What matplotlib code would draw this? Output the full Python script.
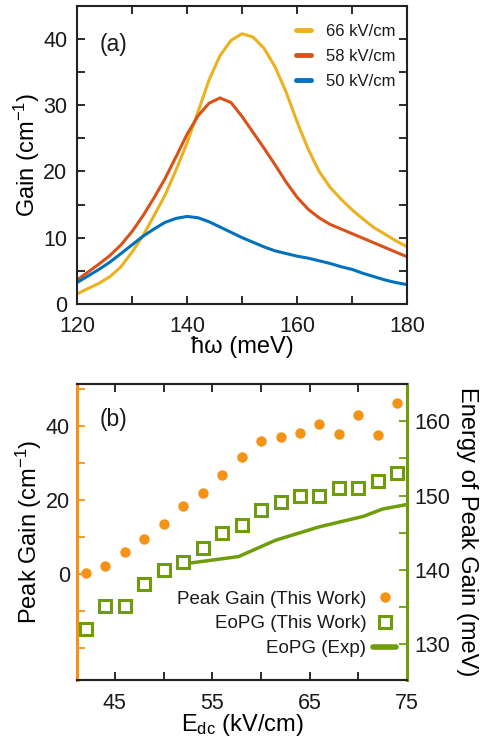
import matplotlib
matplotlib.use("Agg")
import matplotlib.pyplot as plt
from matplotlib.ticker import MultipleLocator
from matplotlib.lines import Line2D

plt.rcParams["font.family"] = ["Liberation Sans", "DejaVu Sans"]
plt.rcParams["mathtext.fontset"] = "custom"
plt.rcParams["mathtext.rm"] = "Liberation Sans"
plt.rcParams["mathtext.it"] = "Liberation Sans:italic"
plt.rcParams["text.color"] = "#1a1a1a"

# ── Data: panel (a) gain spectra ──────────────────────────────────────────────
energy = [120, 122, 124, 126, 128, 130, 132, 134, 136, 138, 140, 142, 144, 146,
          148, 150, 152, 154, 156, 158, 160, 162, 164, 166, 168, 170, 172, 174,
          176, 178, 180]
gain_66 = [1.5, 2.3, 3.1, 4.1, 5.6, 7.8, 10.3, 13.3, 16.4, 20.2, 24.3, 29.0,
           33.8, 37.5, 39.8, 40.8, 40.3, 38.6, 35.8, 32.0, 27.5, 23.4, 20.0,
           17.6, 15.8, 14.2, 12.8, 11.5, 10.5, 9.5, 8.6]
gain_58 = [3.6, 4.8, 6.0, 7.3, 8.9, 10.9, 13.3, 16.0, 18.9, 22.2, 25.6, 28.4,
           30.3, 31.1, 30.4, 28.3, 25.9, 23.5, 21.0, 18.4, 16.1, 14.3, 13.0,
           12.0, 11.3, 10.6, 9.9, 9.2, 8.5, 7.8, 7.1]
gain_50 = [3.2, 4.2, 5.2, 6.3, 7.6, 8.9, 10.2, 11.3, 12.3, 12.9, 13.2, 13.0,
           12.4, 11.6, 10.8, 10.0, 9.3, 8.6, 8.0, 7.6, 7.2, 6.9, 6.5, 6.1, 5.6,
           5.2, 4.6, 4.1, 3.6, 3.2, 2.9]

# ── Data: panel (b) peak gain vs field ────────────────────────────────────────
field = [42, 44, 46, 48, 50, 52, 54, 56, 58, 60, 62, 64, 66, 68, 70, 72, 74]
peak_gain = [0.4, 2.3, 5.9, 9.5, 13.4, 18.4, 21.8, 26.8, 31.5, 35.8, 37.1,
             38.2, 40.4, 37.9, 42.8, 37.6, 46.3]
eopg_calc = [132.1, 135.1, 135.1, 138.1, 140.0, 141.0, 143.0, 145.0, 146.0,
             148.0, 149.1, 150.0, 150.0, 151.0, 151.0, 152.0, 153.0]
field_exp = [52, 57.7, 61.5, 66, 70.5, 72.5, 75]
eopg_exp = [140.8, 141.8, 144.0, 145.8, 147.2, 148.2, 148.8]

# ── Appearance ────────────────────────────────────────────────────────────────
C66, C58, C50 = "#EDB120", "#D95319", "#0072BD"
ORANGE = "#F39419"
GREEN = "#6F9D0A"
TXT = "#1a1a1a"
LABEL_FS = 17


def style_ticks(ax, **kw):
    ax.tick_params(which="both", direction="in", labelsize=15.5, colors=TXT,
                   length=6, width=1.3, **kw)


fig = plt.figure(figsize=(4.87, 7.41), dpi=100)

# ── Panel (a) ─────────────────────────────────────────────────────────────────
ax1 = fig.add_axes([0.158, 0.590, 0.678, 0.402])
ax1.plot(energy, gain_66, color=C66, lw=2.2)
ax1.plot(energy, gain_58, color=C58, lw=2.2)
ax1.plot(energy, gain_50, color=C50, lw=2.2)
ax1.set_xlim(120, 180)
ax1.set_ylim(0, 45)
ax1.xaxis.set_major_locator(MultipleLocator(20))
ax1.xaxis.set_minor_locator(MultipleLocator(10))
ax1.yaxis.set_major_locator(MultipleLocator(10))
ax1.yaxis.set_minor_locator(MultipleLocator(5))
style_ticks(ax1, top=True, right=True)
ax1.tick_params(axis="x", which="both", pad=9)
ax1.tick_params(axis="y", which="both", pad=7)
for s in ax1.spines.values():
    s.set_linewidth(1.5)
    s.set_color("#222222")
ax1.set_xlabel("ħω (meV)", fontsize=LABEL_FS, labelpad=-1)
ax1.set_ylabel("Gain (cm$^{-1}$)", fontsize=LABEL_FS, labelpad=1)
ax1.text(0.07, 0.91, "(a)", transform=ax1.transAxes, fontsize=16.5, va="top")
leg_a = [Line2D([], [], color=c, lw=3.5, solid_capstyle="round") for c in (C66, C58, C50)]
ax1.legend(leg_a, ["66 kV/cm", "58 kV/cm", "50 kV/cm"], loc="upper right",
           frameon=False, fontsize=12, handlelength=0.9, handletextpad=0.9,
           labelspacing=0.6, borderaxespad=0, bbox_to_anchor=(0.985, 0.963))

# ── Panel (b) ─────────────────────────────────────────────────────────────────
ax2 = fig.add_axes([0.158, 0.0823, 0.678, 0.3995])
ax3 = ax2.twinx()
ax2.plot(field, peak_gain, "o", color=ORANGE, ms=7.5, mec="none", zorder=3)
ax3.plot(field, eopg_calc, "s", mfc="white", mec=GREEN, mew=2.2, ms=8.5, zorder=3)
ax3.plot(field_exp, eopg_exp, "-", color=GREEN, lw=2.5, zorder=2)
ax2.set_xlim(41.1, 75)
ax2.set_ylim(-28.6, 51.3)
ax3.set_ylim(125.2, 165.0)
ax2.xaxis.set_minor_locator(MultipleLocator(5))
ax2.set_xticks([45, 55, 65, 75])
ax2.yaxis.set_minor_locator(MultipleLocator(10))
ax2.set_yticks([0, 20, 40])
ax3.yaxis.set_minor_locator(MultipleLocator(5))
ax3.set_yticks([130, 140, 150, 160])
style_ticks(ax2, top=True, right=False)
style_ticks(ax3, left=False, right=True)
ax2.tick_params(axis="x", which="both", pad=9)
ax2.tick_params(axis="y", which="both", color=ORANGE, labelcolor=TXT, pad=5)
ax3.tick_params(axis="y", which="both", color=GREEN, labelcolor=TXT, pad=5)
for ax in (ax2, ax3):
    for s in ax.spines.values():
        s.set_linewidth(1.5)
        s.set_color("#222222")
    ax.spines["left"].set_color(ORANGE)
    ax.spines["left"].set_linewidth(2.2)
    ax.spines["right"].set_color(GREEN)
    ax.spines["right"].set_linewidth(2.2)
ax2.set_xlabel(r"E$_{\rm dc}$ (kV/cm)", fontsize=LABEL_FS, labelpad=-1)
ax2.set_ylabel("Peak Gain (cm$^{-1}$)", fontsize=LABEL_FS, labelpad=1)
ax3.set_ylabel("Energy of Peak Gain (meV)", fontsize=LABEL_FS, rotation=270, labelpad=20)
ax2.text(0.07, 0.92, "(b)", transform=ax2.transAxes, fontsize=16.5, va="top")

leg_b = [
    Line2D([], [], ls="none", marker="o", color=ORANGE, mec="none", ms=7.5),
    Line2D([], [], ls="none", marker="s", mfc="white", mec=GREEN, mew=2.2, ms=8.5),
    Line2D([], [], color=GREEN, lw=4, solid_capstyle="round"),
]
ax3.legend(leg_b, ["Peak Gain (This Work)", "EoPG (This Work)", "EoPG (Exp)"],
           loc="lower right", frameon=False, fontsize=13.5, markerfirst=False,
           handlelength=1.25, handletextpad=0.35, labelspacing=0.4,
           borderaxespad=0, bbox_to_anchor=(0.99, 0.052))

fig.savefig("out.png", dpi=100)
